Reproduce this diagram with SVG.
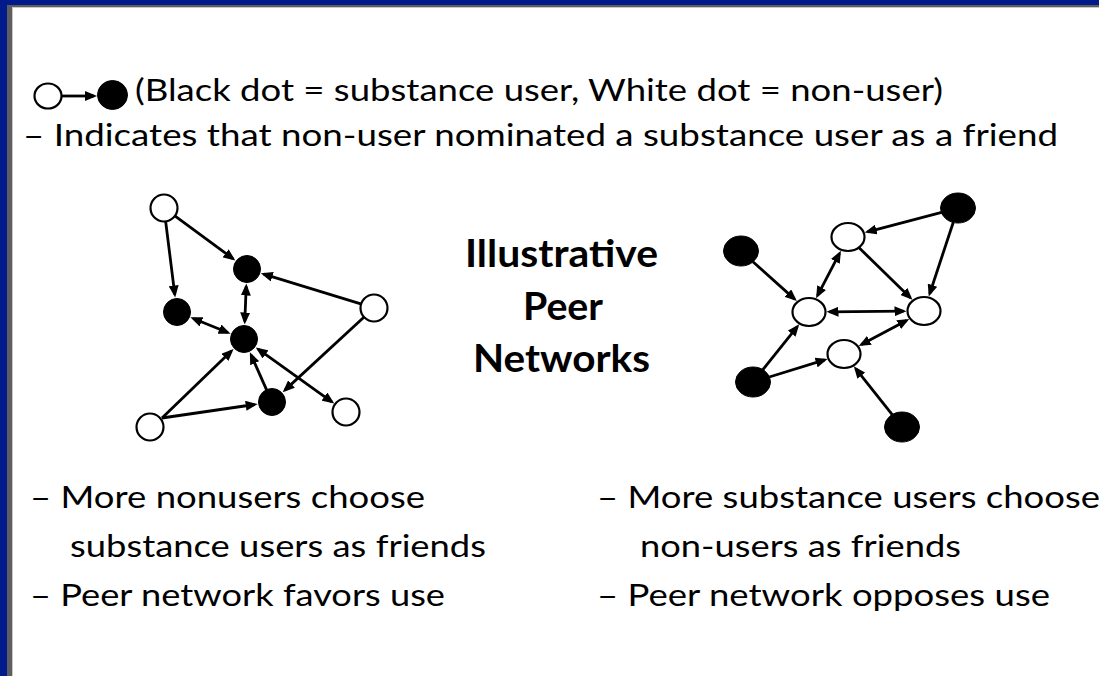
<svg xmlns="http://www.w3.org/2000/svg" width="1099" height="676" viewBox="0 0 1099 676">
<style>
.t{font-family:Lato,"Open Sans","Liberation Sans",sans-serif;font-size:30px;fill:#000}
.h{font-family:Lato,"Open Sans","Liberation Sans",sans-serif;font-size:38px;font-weight:bold;fill:#000}
.w{fill:#fff;stroke:#000;stroke-width:2.2}
.b{fill:#000;stroke:#000;stroke-width:1}
.e{stroke:#000;stroke-width:2.8;fill:none}
.a{marker-end:url(#ah)}
.d{marker-start:url(#ah);marker-end:url(#ah)}
</style>
<defs>
<marker id="ah" viewBox="0 0 12 10" refX="9" refY="5" markerWidth="12" markerHeight="10" markerUnits="userSpaceOnUse" orient="auto-start-reverse">
<path d="M0,0 L12,5 L0,10 z" fill="#000"/>
</marker>
</defs>
<rect width="1099" height="676" fill="#021b8c"/>
<rect x="7" y="5" width="1092" height="671" fill="#5e5e5e"/>
<rect x="12" y="7" width="1087" height="669" fill="#c9c9c9"/>
<rect x="13" y="8" width="1086" height="668" fill="#fff"/>

<g id="legend">
<line class="e a" x1="62" y1="96" x2="94" y2="96"/>
<ellipse class="w" cx="48" cy="96" rx="13.5" ry="12.5"/>
<ellipse class="b" cx="112.5" cy="95" rx="15" ry="14.5"/>
</g>

<g id="texts">
<text class="t" x="135" y="101" textLength="808" lengthAdjust="spacingAndGlyphs">(Black dot = substance user, White dot = non-user)</text>
<text class="t" x="23" y="146" textLength="1035" lengthAdjust="spacingAndGlyphs">– Indicates that non-user nominated a substance user as a friend</text>
<text class="h" x="465" y="267" textLength="193" lengthAdjust="spacingAndGlyphs">Illustrative</text>
<text class="h" x="523" y="320" textLength="80" lengthAdjust="spacingAndGlyphs">Peer</text>
<text class="h" x="473" y="372" textLength="177" lengthAdjust="spacingAndGlyphs">Networks</text>
<text class="t" x="30" y="508" textLength="395" lengthAdjust="spacingAndGlyphs">– More nonusers choose</text>
<text class="t" x="70" y="557" textLength="416" lengthAdjust="spacingAndGlyphs">substance users as friends</text>
<text class="t" x="30" y="606" textLength="415" lengthAdjust="spacingAndGlyphs">– Peer network favors use</text>
<text class="t" x="597" y="508" textLength="503" lengthAdjust="spacingAndGlyphs">– More substance users choose</text>
<text class="t" x="640" y="557" textLength="321" lengthAdjust="spacingAndGlyphs">non-users as friends</text>
<text class="t" x="597" y="606" textLength="453" lengthAdjust="spacingAndGlyphs">– Peer network opposes use</text>
</g>

<g id="connectors">
<line class="e a" x1="174.5" y1="215.7" x2="232.9" y2="258.6"/>
<line class="e a" x1="165.6" y1="220.9" x2="174.8" y2="294.6"/>
<line class="e a" x1="361.6" y1="304.2" x2="263.7" y2="274.1"/>
<line class="e d" x1="246.2" y1="286.5" x2="244.8" y2="321.5"/>
<line class="e d" x1="193.2" y1="318.5" x2="227.8" y2="332.5"/>
<line class="e a" x1="162" y1="418" x2="231.4" y2="351.1"/>
<line class="e a" x1="162" y1="418" x2="254.7" y2="404.5"/>
<line class="e a" x1="266.7" y1="390.1" x2="251.1" y2="355"/>
<line class="e a" x1="364.4" y1="316.8" x2="284.9" y2="390.1"/>
<line class="e d" x1="258.2" y1="349.2" x2="331.8" y2="401.8"/>

<line class="e a" x1="941.6" y1="212.3" x2="867.6" y2="231.8"/>
<line class="e a" x1="953.3" y1="222.2" x2="929.7" y2="293.7"/>
<line class="e a" x1="859.1" y1="247.8" x2="910.3" y2="297.7"/>
<line class="e d" x1="839.5" y1="253.4" x2="817.5" y2="295.6"/>
<line class="e a" x1="752.9" y1="261.7" x2="794.6" y2="299.1"/>
<line class="e d" x1="829.5" y1="311.8" x2="903.5" y2="311.2"/>
<line class="e d" x1="906.6" y1="320.4" x2="861.4" y2="344.6"/>
<line class="e a" x1="762.7" y1="369.9" x2="797.3" y2="326.7"/>
<line class="e a" x1="769.3" y1="377" x2="824.7" y2="359.9"/>
<line class="e a" x1="892.4" y1="414.9" x2="855.7" y2="368.7"/>
</g>

<g id="left-network">
<g id="L-W1"><circle class="w" cx="164" cy="208" r="13.5"/></g>
<g id="L-B1"><circle class="b" cx="247" cy="269" r="13.5"/></g>
<g id="L-B2"><circle class="b" cx="177" cy="312" r="13.5"/></g>
<g id="L-B3"><circle class="b" cx="244" cy="339" r="13.5"/></g>
<g id="L-W2"><circle class="w" cx="374" cy="308" r="13.5"/></g>
<g id="L-B4"><circle class="b" cx="272" cy="402" r="13.5"/></g>
<g id="L-W3"><circle class="w" cx="346" cy="412" r="13.5"/></g>
<g id="L-W4"><circle class="w" cx="150" cy="427" r="13.5"/></g>
</g>

<g id="right-network">
<g id="R-B5"><ellipse class="b" cx="958" cy="208" rx="17.5" ry="15"/></g>
<g id="R-W5"><ellipse class="w" cx="848" cy="237" rx="16.5" ry="14"/></g>
<g id="R-B6"><ellipse class="b" cx="741" cy="251" rx="17.5" ry="15"/></g>
<g id="R-W6"><ellipse class="w" cx="809" cy="312" rx="16.5" ry="14"/></g>
<g id="R-W7"><ellipse class="w" cx="924" cy="311" rx="16.5" ry="14"/></g>
<g id="R-W8"><ellipse class="w" cx="844" cy="354" rx="16.5" ry="14"/></g>
<g id="R-B7"><ellipse class="b" cx="753" cy="382" rx="17.5" ry="15"/></g>
<g id="R-B8"><ellipse class="b" cx="902" cy="427" rx="17.5" ry="15"/></g>
</g>
</svg>
